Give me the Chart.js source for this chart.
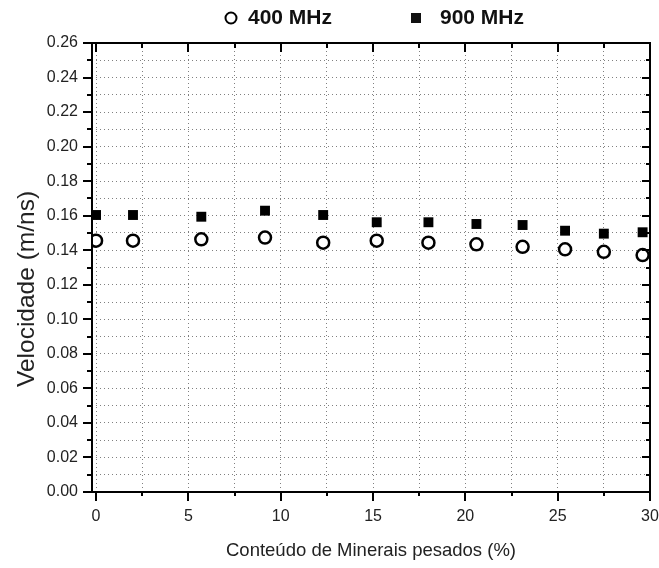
<!DOCTYPE html>
<html>
<head>
<meta charset="utf-8">
<script src="https://cdn.jsdelivr.net/npm/chart.js@4.4.0/dist/chart.umd.min.js"></script>
<style>
  html, body { margin: 0; padding: 0; background: #fff; }
  #wrap { width: 659px; height: 568px; }
</style>
</head>
<body>
<div id="wrap"><canvas id="velChart"></canvas></div>
<script>
// ---- DADOS ----
const minerais = [0, 2.0, 5.7, 9.15, 12.3, 15.2, 18.0, 20.6, 23.1, 25.4, 27.5, 29.6];
const vel400 = [0.1455, 0.1455, 0.1463, 0.1473, 0.1444, 0.1455, 0.1444, 0.1434, 0.1420, 0.1405, 0.1391, 0.1372];
const vel900 = [0.1604, 0.1604, 0.1594, 0.1629, 0.1604, 0.1562, 0.1562, 0.1552, 0.1546, 0.1513, 0.1496, 0.1504];
const xTicks = [0, 2.5, 5, 7.5, 10, 12.5, 15, 17.5, 20, 22.5, 25, 27.5, 30];
const yTicks = [0, 0.01, 0.02, 0.03, 0.04, 0.05, 0.06, 0.07, 0.08, 0.09, 0.10, 0.11, 0.12, 0.13,
                0.14, 0.15, 0.16, 0.17, 0.18, 0.19, 0.20, 0.21, 0.22, 0.23, 0.24, 0.25, 0.26];
const tituloY = 'Velocidade (m/ns)';

const isMajorX = v => Math.abs(v % 5) < 1e-9;
const isMajorY = v => Math.round(v * 100) % 2 === 0;

// ---- MOLDURA (eixos estilo Origin) ----
const moldura = {
  id: 'moldura',
  afterDraw(chart) {
    const {ctx, chartArea: a, scales: {x, y}} = chart;
    ctx.save();
    ctx.strokeStyle = '#000';
    ctx.lineWidth = 2;
    ctx.beginPath();
    ctx.moveTo(a.left - 9, a.top); ctx.lineTo(a.right + 1, a.top);
    ctx.moveTo(a.left - 9, a.bottom); ctx.lineTo(a.right + 1, a.bottom);
    ctx.moveTo(a.left, a.top); ctx.lineTo(a.left, a.bottom);
    ctx.moveTo(a.right, a.top); ctx.lineTo(a.right, a.bottom);
    xTicks.forEach(v => {
      const px = Math.round(x.getPixelForValue(v));
      const big = isMajorX(v);
      ctx.moveTo(px, a.bottom); ctx.lineTo(px, a.bottom + (big ? 9 : 4));
      ctx.moveTo(px, a.top); ctx.lineTo(px, a.top + (big ? 9 : 5));
    });
    yTicks.forEach(v => {
      const py = Math.round(y.getPixelForValue(v));
      const big = isMajorY(v);
      ctx.moveTo(a.left - (big ? 9 : 5), py); ctx.lineTo(a.left, py);
      ctx.moveTo(a.right - (big ? 8 : 4), py); ctx.lineTo(a.right, py);
    });
    ctx.stroke();
    ctx.restore();
  }
};

// ---- LEGENDA + TITULO Y ----
const textos = {
  id: 'textos',
  afterDraw(chart) {
    const {ctx} = chart;
    const ds = chart.data.datasets;
    ctx.save();
    ctx.font = 'bold 21px Arial';
    ctx.fillStyle = '#111';
    ctx.textBaseline = 'middle';
    // circulo aberto
    ctx.beginPath();
    ctx.arc(231, 18, 5.5, 0, Math.PI * 2);
    ctx.lineWidth = 2;
    ctx.strokeStyle = '#000';
    ctx.stroke();
    ctx.fillText(ds[0].label, 248, 18);
    // quadrado cheio
    ctx.fillRect(411, 13, 10, 10);
    ctx.fillText(ds[1].label, 440, 18);
    // titulo do eixo y
    ctx.fillStyle = '#222';
    ctx.font = '24.5px Arial';
    ctx.textAlign = 'center';
    ctx.translate(27, 289);
    ctx.rotate(-Math.PI / 2);
    ctx.fillText(tituloY, 0, 0);
    ctx.restore();
  }
};

function criarGrafico() {
  const ctx = document.getElementById('velChart').getContext('2d');

  new Chart(ctx, {
    type: 'scatter',
    data: {
      datasets: [
        {
          label: '400 MHz',
          data: minerais.map((m, i) => ({x: m, y: vel400[i]})),
          pointStyle: 'circle',
          pointRadius: 6,
          borderWidth: 2.5,
          borderColor: '#000',
          backgroundColor: '#fff'
        },
        {
          label: '900 MHz',
          data: minerais.map((m, i) => ({x: m, y: vel900[i]})),
          pointStyle: 'rect',
          pointRadius: 7,
          borderWidth: 0,
          borderColor: '#000',
          backgroundColor: '#000'
        }
      ]
    },
    options: {
      responsive: true,
      maintainAspectRatio: false,
      animation: false,
      layout: { padding: { top: 43, right: 9, left: 0, bottom: 0 } },
      plugins: {
        legend: { display: false },
        tooltip: { enabled: false }
      },
      scales: {
        x: {
          type: 'linear',
          min: -0.22,
          max: 30,
          afterBuildTicks: s => { s.ticks = xTicks.map(v => ({value: v})); },
          afterFit: s => { s.height = 76; s.paddingLeft = 0; s.paddingRight = 0; },
          ticks: {
            autoSkip: false,
            maxRotation: 0,
            padding: 15,
            color: '#222',
            font: { family: 'Arial', size: 16 },
            callback: v => isMajorX(v) ? String(v) : ''
          },
          grid: { color: '#808080', lineWidth: 1, drawTicks: false },
          border: { display: false, dash: [1, 3] },
          title: {
            display: true,
            text: 'Conteúdo de Minerais pesados (%)',
            color: '#222',
            font: { family: 'Arial', size: 18.5 },
            padding: { top: 0, bottom: 6 }
          }
        },
        y: {
          min: 0,
          max: 0.26,
          afterBuildTicks: s => { s.ticks = yTicks.map(v => ({value: v})); },
          afterFit: s => { s.width = 92; s.paddingTop = 0; s.paddingBottom = 0; },
          ticks: {
            autoSkip: false,
            padding: 14,
            color: '#222',
            font: { family: 'Arial', size: 16 },
            callback: v => isMajorY(v) ? v.toFixed(2) : ''
          },
          grid: { color: '#808080', lineWidth: 1, drawTicks: false },
          border: { display: false, dash: [1, 3] }
        }
      }
    },
    plugins: [moldura, textos]
  });
}

criarGrafico();
</script>
</body>
</html>
